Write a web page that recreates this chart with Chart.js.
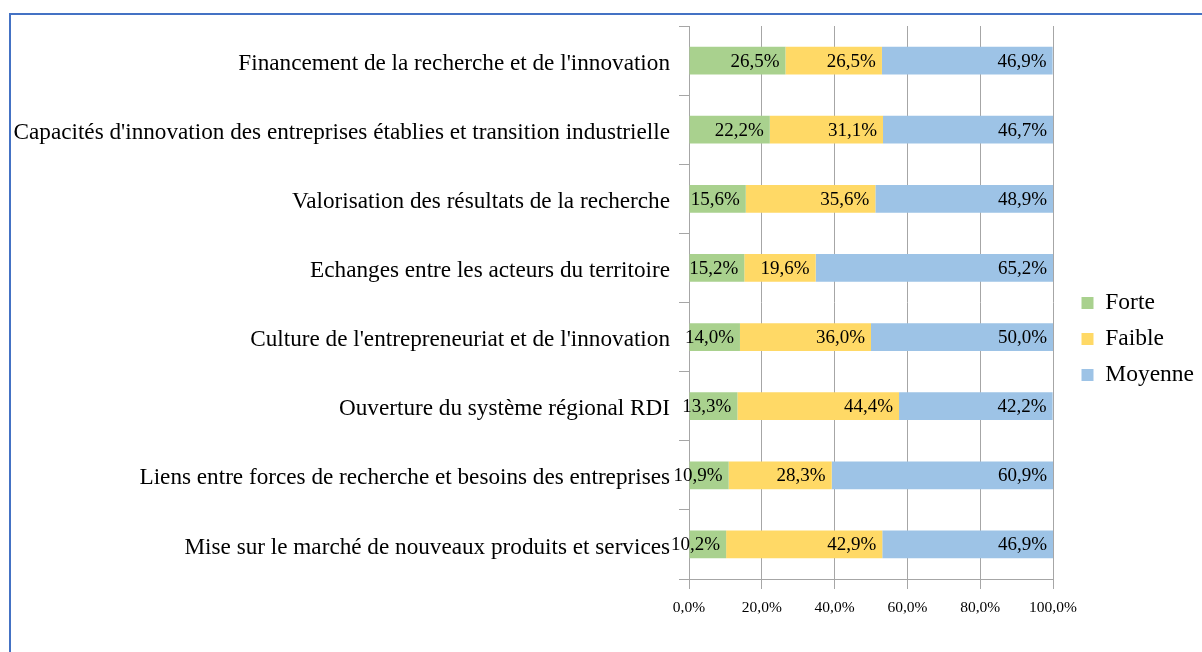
<!DOCTYPE html>
<html>
<head>
<meta charset="utf-8">
<script src="https://cdn.jsdelivr.net/npm/chart.js@4/dist/chart.umd.min.js"></script>
<style>
  html, body { margin: 0; padding: 0; background: #fff; }
  #wrap { position: relative; width: 1202px; height: 652px; overflow: hidden; }
  #frame { position: absolute; left: 9px; top: 13px; right: -10px; bottom: -10px;
           border-top: 2px solid #4472C4; border-left: 2px solid #4472C4; }
  #chart { position: absolute; left: 0; top: 0; }
</style>
</head>
<body>
<div id="wrap">
  <div id="frame"></div>
  <canvas id="chart" width="1202" height="652"></canvas>
</div>
<script>
const categories = [
  "Financement de la recherche et de l'innovation",
  "Capacités d'innovation des entreprises établies et transition industrielle",
  "Valorisation des résultats de la recherche",
  "Echanges entre les acteurs du territoire",
  "Culture de l'entrepreneuriat et de l'innovation",
  "Ouverture du système régional RDI",
  "Liens entre forces de recherche et besoins des entreprises",
  "Mise sur le marché de nouveaux produits et services"
];
const forte = [26.5, 22.2, 15.6, 15.2, 14.0, 13.3, 10.9, 10.2];
const faible = [26.5, 31.1, 35.6, 19.6, 36.0, 44.4, 28.3, 42.9];
const moyenne = [46.9, 46.7, 48.9, 65.2, 50.0, 42.2, 60.9, 46.9];
const xTicks = [0, 20, 40, 60, 80, 100];

const serif = "'Liberation Serif', 'Times New Roman', serif";

function pct(v) {
  return v.toFixed(1).replace('.', ',') + '%';
}

// value labels, right aligned inside each segment
const barLabels = {
  id: 'barLabels',
  afterDatasetsDraw(chart) {
    const ctx = chart.ctx;
    ctx.save();
    ctx.font = '19px ' + serif;
    ctx.fillStyle = '#000';
    ctx.textAlign = 'right';
    ctx.textBaseline = 'middle';
    chart.data.datasets.forEach((ds, i) => {
      const meta = chart.getDatasetMeta(i);
      meta.data.forEach((bar, j) => {
        const right = Math.min(bar.x, chart.chartArea.right);
        ctx.fillText(pct(ds.data[j]), right - 6, bar.y + 1);
      });
    });
    ctx.restore();
  }
};

// push the legend a bit away from the plot
const legendShift = {
  id: 'legendShift',
  afterLayout(chart) {
    const lg = chart.legend;
    lg.left += 16;
    lg.right += 16;
  }
};

new Chart(document.getElementById('chart'), {
  type: 'bar',
  data: {
    labels: categories,
    datasets: [
      { label: 'Forte', data: forte, backgroundColor: '#A9D18E' },
      { label: 'Faible', data: faible, backgroundColor: '#FFD966' },
      { label: 'Moyenne', data: moyenne, backgroundColor: '#9DC3E6' }
    ]
  },
  options: {
    indexAxis: 'y',
    responsive: false,
    animation: false,
    devicePixelRatio: 1,
    datasets: { bar: { categoryPercentage: 1, barPercentage: 0.4, borderWidth: 0 } },
    layout: { padding: { top: 26, right: 0, bottom: 0, left: 0 } },
    scales: {
      x: {
        stacked: true,
        min: 0,
        max: 100,
        afterBuildTicks: (scale) => { scale.ticks = xTicks.map(v => ({ value: v })); },
        afterFit: (scale) => { scale.height = 73; scale.paddingRight = 149; },
        grid: { color: '#A6A6A6', lineWidth: 1, tickLength: 10 },
        border: { color: '#A6A6A6', width: 1 },
        ticks: {
          padding: 10,
          color: '#000',
          font: { family: serif, size: 15.5 },
          callback: (v) => pct(v)
        }
      },
      y: {
        stacked: true,
        afterFit: (scale) => { scale.width = 689; },
        grid: { offset: true, drawOnChartArea: false, color: '#A6A6A6', tickLength: 10 },
        border: { color: '#A6A6A6', width: 1 },
        ticks: {
          padding: 9,
          labelOffset: 3,
          color: '#000',
          font: { family: serif, size: 23.2 },
          autoSkip: false
        }
      }
    },
    plugins: {
      legend: {
        position: 'right',
        labels: {
          boxWidth: 12,
          boxHeight: 12,
          padding: 12.5,
          color: '#000',
          font: { family: serif, size: 23.5 }
        }
      },
      tooltip: { enabled: false }
    }
  },
  plugins: [barLabels, legendShift]
});
</script>
</body>
</html>
